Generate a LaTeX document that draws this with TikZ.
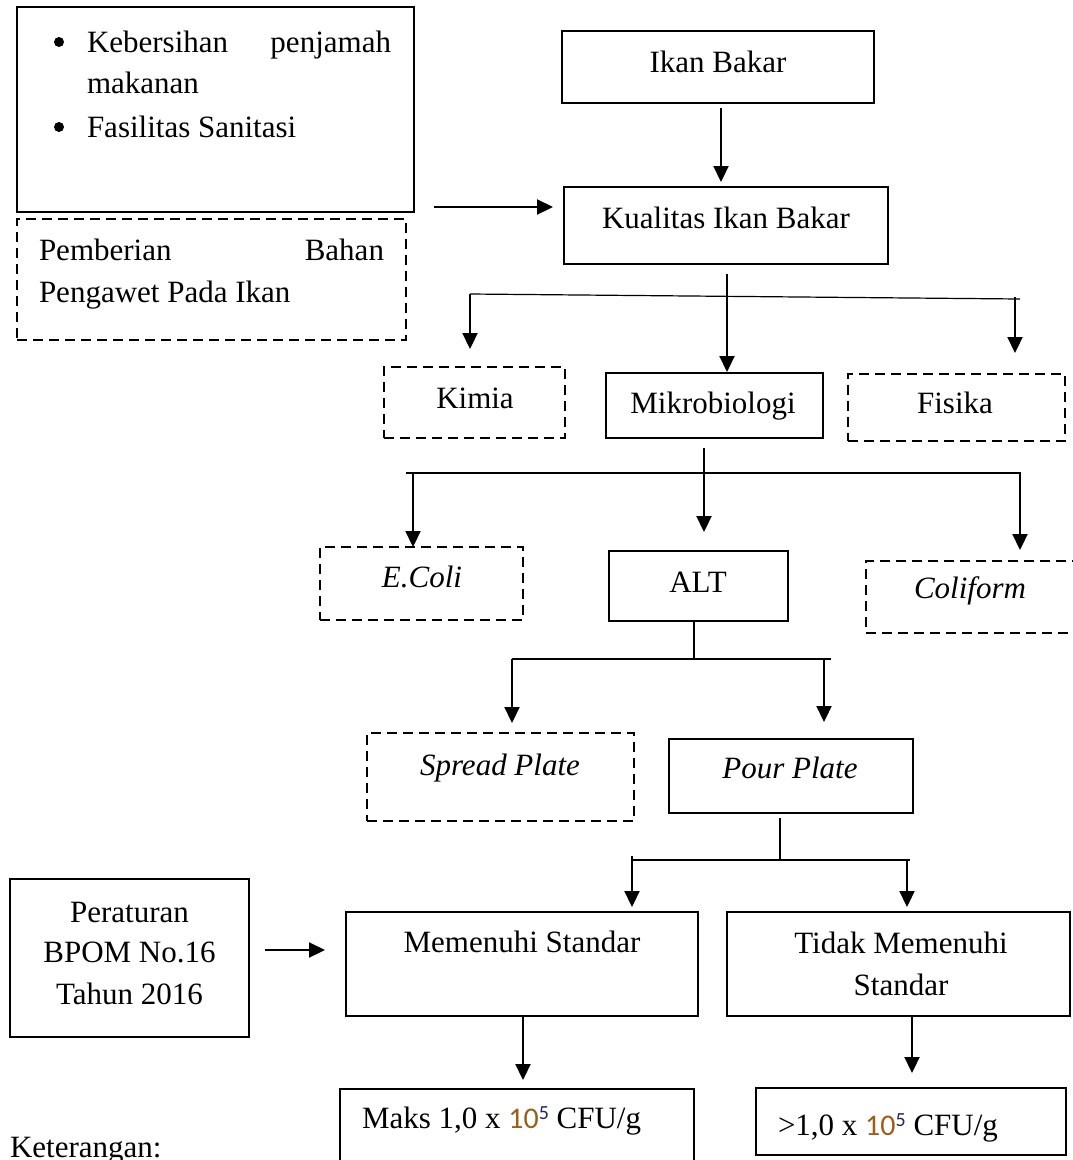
\documentclass[tikz,border=0pt]{standalone}
\usepackage{fontspec}
\setmainfont{Liberation Serif}
\newfontfamily\calibfont{Carlito}
\usetikzlibrary{arrows.meta,fit,calc}
\definecolor{tenc}{RGB}{155,95,25}
\definecolor{fivec}{RGB}{35,40,85}
\newcommand\dfs{\fontsize{31}{42}\selectfont}
\newcommand\tenfive{{\calibfont\fontsize{30}{30}\selectfont\color{tenc}10}\raisebox{9pt}{\calibfont\fontsize{20}{20}\selectfont\color{fivec}5}}
\begin{document}
\begin{tikzpicture}[x=1pt,y=-1pt,
  solidbox/.style={draw, line width=2.4pt, inner sep=0pt, outer sep=0pt},
  dashbox/.style={solidbox, dash pattern=on 10pt off 6pt},
  txt/.style={inner sep=0pt, outer sep=0pt, font=\dfs, anchor=base},
  ltxt/.style={txt, anchor=base west},
  rtxt/.style={txt, anchor=base east},
  dot/.style={circle, fill, inner sep=0pt, minimum size=10pt},
  arr/.style={line width=2.2pt, -{Triangle[length=16pt,width=15pt]}},
  thinln/.style={line width=1.2pt},
]
\useasboundingbox (0,0) rectangle (1072,1160);

% boxes
\node[solidbox, fit={(17,7)(414,212)}] (care) {};
\node[dashbox, fit={(17,219)(406,340)}] (pres) {};
\node[solidbox, fit={(562,31)(874,103)}] (ikan) {};
\node[solidbox, fit={(564,187)(888,264)}] (kual) {};
\node[dashbox, fit={(384,367)(565,438)}] (kimia) {};
\node[solidbox, fit={(606,373)(823,438)}] (mikro) {};
\node[dashbox, fit={(848,374)(1065,441)}] (fisika) {};
\node[dashbox, fit={(320,547)(523,620)}] (ecoli) {};
\node[solidbox, fit={(609,551)(788,621)}] (alt) {};
\node[dashbox, fit={(866,561)(1090,633)}] (colif) {};
\node[dashbox, fit={(367,733)(634,821)}] (spread) {};
\node[solidbox, fit={(669,739)(913,813)}] (pour) {};
\node[solidbox, fit={(10,879)(249,1037)}] (bpom) {};
\node[solidbox, fit={(346,912)(698,1016)}] (mem) {};
\node[solidbox, fit={(727,912)(1070,1016)}] (tidak) {};
\node[solidbox, fit={(340,1089)(694,1180)}] (maks) {};
\node[solidbox, fit={(756,1088)(1066,1155)}] (lebih) {};

% texts
\node[dot] (tb1) at (59,42) {};
\node[ltxt] (t1a) at (87,52) {Kebersihan};
\node[rtxt] (t1b) at (391,52) {penjamah};
\node[ltxt] (t1c) at (87,93) {makanan};
\node[dot] (tb2) at (59,127) {};
\node[ltxt] (t1d) at (87,137) {Fasilitas Sanitasi};
\node[ltxt] (t2a) at (39,260) {Pemberian};
\node[rtxt] (t2b) at (384,260) {Bahan};
\node[ltxt] (t2c) at (39,302) {Pengawet Pada Ikan};
\node[txt] (t3) at (718,72) {Ikan Bakar};
\node[txt] (t4) at (726,228) {Kualitas Ikan Bakar};
\node[txt] (t5) at (475,408) {Kimia};
\node[txt] (t6) at (713,413) {Mikrobiologi};
\node[txt] (t7) at (955,413) {Fisika};
\node[txt, font=\dfs\itshape] (t8) at (422,587) {E.Coli};
\node[txt] (t9) at (698,592) {ALT};
\node[txt, font=\dfs\itshape] (t10) at (970,598) {Coliform};
\node[txt, font=\dfs\itshape] (t11) at (500,775) {Spread Plate};
\node[txt, font=\dfs\itshape] (t12) at (790,778) {Pour Plate};
\node[txt] (t13) at (129.5,922) {Peraturan};
\node[txt] (t14) at (129.5,962) {BPOM No.16};
\node[txt] (t15) at (129.5,1004) {Tahun 2016};
\node[txt] (t16) at (522,952) {Memenuhi Standar};
\node[txt] (t17) at (901,953) {Tidak Memenuhi};
\node[txt] (t18) at (901,995) {Standar};
\node[ltxt] (t19) at (362,1128) {Maks 1,0 x \tenfive{} CFU/g};
\node[ltxt] (t20) at (778,1135) {>1,0 x \tenfive{} CFU/g};
\node[ltxt] (t21) at (10,1157) {Keterangan:};

% connectors
\coordinate (a1) at ([xshift=20pt,yshift=5pt]care.south east);
\draw[arr, shorten >=11pt] (a1) -- (a1 -| kual.west);
\coordinate (a2) at ([xshift=3pt,yshift=-5pt]ikan.south);
\draw[arr, shorten >=5pt] (a2) -- (a2 |- kual.north);
\coordinate (a3) at ([xshift=1pt,yshift=-10pt]kual.south);
\draw[arr, shorten >=1pt] (a3) -- (a3 |- mikro.north);

\coordinate (b1) at (470,294);
\coordinate (b2) at (1020,299);
\coordinate (b3) at (1015,297);
\draw[thinln] (b1) -- (b2);
\draw[arr, shorten >=18pt] (b1) -- (b1 |- kimia.north);
\draw[arr, shorten >=21pt] (b3) -- (b3 |- fisika.north);

\coordinate (a4) at ([xshift=-10.5pt,yshift=-10pt]mikro.south);
\draw[arr, shorten >=19pt] (a4) -- (a4 |- alt.north);
\coordinate (c1) at (406,473);
\coordinate (c2) at (1021,473);
\coordinate (c3) at (413,473);
\coordinate (c4) at (1020,473);
\draw[thinln] (c1) -- (c2);
\draw[arr] (c3) -- (c3 |- ecoli.north);
\draw[arr, shorten >=11pt] (c4) -- (c4 |- colif.north);

\coordinate (a5) at ([xshift=-4.5pt]alt.south);
\coordinate (d0) at (694,659);
\draw[thinln] (a5) -- (d0);
\coordinate (d1) at (512,659);
\coordinate (d2) at (831,659);
\coordinate (d3) at (824,659);
\draw[thinln] (d1) -- (d2);
\draw[arr, shorten >=10pt] (d1) -- (d1 |- spread.north);
\draw[arr, shorten >=17pt] (d3) -- (d3 |- pour.north);

\coordinate (a6) at ([xshift=-11pt,yshift=-5pt]pour.south);
\coordinate (e0) at (780,860);
\draw[thinln] (a6) -- (e0);
\coordinate (e1) at (632,860);
\coordinate (e2) at (910,860);
\coordinate (e3) at (907,860);
\draw[thinln] (e1) -- (e2);
\draw[arr, shorten >=5pt] ([yshift=4pt]e1) -- (e1 |- mem.north);
\draw[arr, shorten >=5pt] (e3) -- (e3 |- tidak.north);

\coordinate (a7) at ([xshift=16pt,yshift=8pt]bpom.east);
\draw[arr, shorten >=21pt] (a7) -- (a7 -| mem.west);
\coordinate (a8) at ([xshift=1pt]mem.south);
\draw[arr, shorten >=9pt] (a8) -- (a8 |- maks.north);
\coordinate (a9) at ([xshift=13.5pt]tidak.south);
\draw[arr, shorten >=15pt] (a9) -- (a9 |- lebih.north);
\end{tikzpicture}
\end{document}
